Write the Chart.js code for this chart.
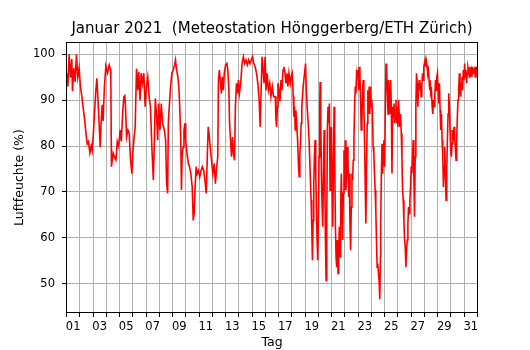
<!DOCTYPE html>
<html>
<head>
<meta charset="utf-8">
<script src="https://cdn.jsdelivr.net/npm/chart.js@4"></script>
<style>
  html, body { margin: 0; padding: 0; background: #fff; }
</style>
</head>
<body>
<canvas id="chartContainer" width="530" height="350"></canvas>
<script>
"use strict";

// 1: data - Zeit in Tagen seit 1. Januar 00:00, Luftfeuchte in %
const zeit = [
  0.00, 0.10, 0.20, 0.30, 0.40, 0.45, 0.55, 0.65, 0.75, 0.85, 0.95,
  1.05, 1.15, 1.25, 1.36, 1.46, 1.56, 1.66, 1.76, 1.86, 1.93,
  2.01, 2.11, 2.21, 2.29, 2.36, 2.46, 2.54, 2.61, 2.69, 2.76, 2.86, 2.97,
  3.09, 3.22, 3.34, 3.39, 3.52, 3.64, 3.73, 3.83, 3.93,
  4.05, 4.13, 4.25, 4.33, 4.40, 4.45, 4.53, 4.63, 4.73, 4.83, 4.93,
  5.00, 5.08, 5.18, 5.28, 5.38, 5.45, 5.55, 5.63, 5.73, 5.83, 5.93,
  6.03, 6.13, 6.23, 6.33, 6.45, 6.55, 6.63, 6.70, 6.80, 6.88, 6.95,
  7.05, 7.15, 7.25, 7.38, 7.48, 7.55, 7.63, 7.68, 7.75, 7.85, 7.95,
  8.05, 8.15, 8.22, 8.30, 8.40, 8.47, 8.54, 8.62, 8.67, 8.72, 8.79, 8.86, 8.94, 8.99,
  9.09, 9.19, 9.28, 9.38, 9.48, 9.56, 9.63, 9.70, 9.78, 9.85, 9.95,
  10.05, 10.15, 10.25, 10.35, 10.44, 10.54, 10.62, 10.69, 10.77, 10.84, 10.94,
  11.04, 11.14, 11.23, 11.33, 11.41, 11.46, 11.53, 11.68, 11.75, 11.83, 11.90,
  12.00, 12.10, 12.17, 12.25, 12.30, 12.37, 12.45, 12.52, 12.60, 12.67, 12.74, 12.82, 12.89, 12.97,
  13.04, 13.14, 13.24, 13.34, 13.44, 13.54, 13.64, 13.74, 13.84, 13.94,
  14.03, 14.13, 14.23, 14.33, 14.43, 14.53, 14.61, 14.68, 14.75, 14.83, 14.90, 14.98,
  15.05, 15.13, 15.23, 15.33, 15.42, 15.52, 15.62, 15.75, 15.80, 15.85, 15.90, 15.95,
  16.03, 16.10, 16.18, 16.25, 16.33, 16.40, 16.48, 16.55, 16.63, 16.70, 16.78, 16.88, 16.95,
  17.03, 17.10, 17.15, 17.20, 17.25, 17.30, 17.35, 17.43, 17.50, 17.55, 17.60, 17.65, 17.70, 17.75, 17.83, 17.90, 17.98,
  18.03, 18.08, 18.15, 18.23, 18.30, 18.38, 18.45, 18.50, 18.55, 18.60, 18.65, 18.70, 18.75, 18.80, 18.85, 18.90, 18.95,
  19.00, 19.05, 19.10, 19.13, 19.18, 19.23, 19.28, 19.33, 19.38, 19.43, 19.48, 19.53, 19.58, 19.63, 19.68, 19.73, 19.78, 19.83, 19.88, 19.93, 19.98,
  20.03, 20.08, 20.13, 20.18, 20.23, 20.28, 20.33, 20.38, 20.43, 20.48, 20.53, 20.58, 20.63, 20.68, 20.73, 20.78, 20.83, 20.88, 20.93, 20.98,
  21.03, 21.08, 21.13, 21.18, 21.23, 21.28, 21.33, 21.38, 21.43, 21.48, 21.53, 21.58, 21.63, 21.68, 21.73, 21.78, 21.83, 21.88, 21.93, 21.98,
  22.03, 22.08, 22.13, 22.18, 22.23, 22.28, 22.33, 22.38, 22.43, 22.48, 22.53, 22.58, 22.63, 22.68, 22.73, 22.78, 22.83, 22.88, 22.93, 22.98,
  23.03, 23.08, 23.13, 23.18, 23.23, 23.28, 23.33, 23.38, 23.43, 23.48, 23.53, 23.58, 23.63, 23.68, 23.70, 23.75, 23.80, 23.85, 23.90, 23.95,
  24.00, 24.05, 24.10, 24.15, 24.20, 24.25, 24.30, 24.35, 24.40, 24.45, 24.50, 24.55, 24.60, 24.65, 24.70, 24.75, 24.80, 24.85, 24.90, 24.95,
  25.00, 25.05, 25.10, 25.15, 25.20, 25.25, 25.30, 25.35, 25.40, 25.45, 25.50, 25.55, 25.60, 25.65, 25.70, 25.75, 25.80, 25.85, 25.90, 25.95,
  26.00, 26.05, 26.10, 26.15, 26.20, 26.25, 26.30, 26.35, 26.40, 26.45, 26.50, 26.55, 26.60, 26.65, 26.70, 26.75, 26.80, 26.85, 26.90, 26.95,
  27.00, 27.05, 27.10, 27.15, 27.20, 27.25, 27.30, 27.35, 27.40, 27.45, 27.48, 27.53, 27.58, 27.63, 27.68, 27.73, 27.78, 27.83, 27.88, 27.93, 27.98,
  28.03, 28.08, 28.13, 28.18, 28.23, 28.28, 28.33, 28.38, 28.43, 28.48, 28.53, 28.58, 28.63, 28.68, 28.73, 28.78, 28.83, 28.88, 28.93, 28.98,
  29.03, 29.08, 29.13, 29.18, 29.23, 29.28, 29.33, 29.38, 29.43, 29.48, 29.53, 29.58, 29.63, 29.68, 29.73, 29.78, 29.83, 29.88, 29.93, 29.98,
  30.03, 30.08, 30.13, 30.18, 30.23, 30.28, 30.33, 30.38, 30.43, 30.48, 30.53, 30.58, 30.63, 30.68, 30.73, 30.78, 30.83, 30.88, 30.93, 30.98
];

const feuchte = [
  96, 93, 100, 95, 99, 92, 97, 94, 100, 95, 97,
  93, 91, 88.5, 86, 83, 80.5, 81, 78.5, 80, 79,
  82, 87, 92, 94.8, 91, 85, 79.8, 85, 89, 85.5, 93, 97.5,
  96, 97.7, 96.5, 75.5, 78.5, 77.5, 77, 81, 80,
  83.5, 81, 87.8, 90.8, 91, 88.5, 82, 83.5, 82.8, 77, 74,
  78.4, 81.3, 84.2, 96.9, 92.2, 96.2, 90, 95.9, 93.7, 95.9, 88.6,
  92.9, 95, 90.8, 88.6, 79, 72.6, 81.3, 90.4, 86.4, 81.3, 89.3,
  83.5, 89.3, 85, 83.5, 81.3, 71.8, 69.7, 85, 88.6, 93, 95.9,
  96.6, 97.7, 98.8, 96.6, 95.1, 93, 88.6, 81.3, 70.4, 77.7, 79.8, 83.5, 85, 81.3,
  78.4, 76.2, 75.5, 74, 71.1, 63.8, 65.3, 71.1, 75.5, 74, 74.7,
  73.3, 74.7, 75.5, 74.7, 72.6, 69.7, 77.7, 84.2, 82, 79.8, 76.9,
  74, 76.2, 71.8, 75.5, 77.7, 94.4, 96.6, 91.5, 95.1, 92.2, 95.9,
  97.7, 98, 96.6, 92.2, 85, 81.3, 77.7, 82, 78.4, 76.9, 88.6, 93.7, 91.5, 94.4,
  91.5, 93.7, 98, 99.5, 98, 98.8, 97.7, 98.8, 98, 98.8,
  99.5, 98, 97.3, 95.9, 93.7, 90.1, 84.2, 92.2, 99.5, 96.6, 93.7, 99.5,
  92.2, 95.9, 92.2, 93.7, 90.8, 93, 90.8, 90.8, 85.7, 84.2, 88.6, 93.7,
  92.2, 89.8, 94.4, 92.2, 96.6, 97.3, 95.9, 93.7, 95.9, 93, 95.9, 93.7, 95.1,
  95.9, 90.8, 86.4, 88.6, 83.5, 87.8, 85.7, 81.3, 75.5, 73.3, 78.4, 80.5, 85, 88.6, 92.2, 94.4, 96.6,
  98, 93, 88.6, 85, 81.3, 74, 68.2, 62.4, 55.1, 63.8, 71.8, 77.7, 81.3, 74, 66.7, 59.5, 55.1,
  64.6, 77.7, 88.6, 94, 85, 74, 66.7, 62.4, 74, 83.5, 74, 59.5, 50.7, 63.1, 84.2, 88.6, 85, 89.3, 70.4, 81.3, 84.2,
  74, 62.4, 74, 88.6, 77.7, 63.1, 55.8, 53.6, 59.5, 52.2, 56.6, 62.4, 55.8, 66.7, 74, 66.7, 59.5, 69.7, 79.1, 70.4,
  81.3, 70.4, 74, 79.8, 77.7, 68.9, 74, 63.1, 57.3, 66.7, 74, 72.6, 76.9, 81.3, 88.6, 93, 91.5, 95.9, 95.1, 96.6,
  92.2, 97.3, 95.9, 90.1, 83.5, 85, 92.2, 94.4, 88.6, 81.3, 71.8, 63.1, 75.5, 85, 92.2, 87, 93, 87, 93, 88.6,
  90.1, 87, 79.8, 78.4, 74, 70.4, 66, 59.5, 53.6, 54.3, 52.2, 50.7, 46.6, 55.8, 63.1, 74, 80.5, 74, 79.1, 81.3,
  75.5, 88.6, 98, 96.6, 91.5, 87, 94.4, 90.1, 87, 94.4, 88.6, 74, 88.6, 86.4, 89.3, 85, 87, 90.1, 85, 88.6,
  84.2, 90.1, 86.4, 84.2, 87, 82.8, 77.7, 70.4, 68.2, 63.8, 59.5, 58, 53.6, 57.3, 59.5, 63.1, 66.7, 65.3, 68.2, 71.1,
  75.5, 74, 77.7, 81.3, 74, 64.6, 77.7, 88.6, 95.9, 93.7, 88.6, 92.2, 94.4, 92.2, 93.7, 90.8, 93, 95.9, 94.4, 97.3,
  98, 98.8, 97.3, 98.4, 97.3, 95.9, 96.6, 94.4, 92.2, 93, 91.5, 92, 88.6, 87, 90.1, 88.6, 90.8, 94.4, 92.2, 95.1, 95.9,
  92.2, 89.3, 93.7, 87.8, 83.5, 87, 81.3, 77.7, 71.1, 75.5, 79.8, 74, 68.2, 74.7, 81.3, 87, 91.5, 88.6, 83.5, 79.1,
  77.7, 80.5, 83.5, 81.3, 84.2, 81.3, 79.8, 76.9, 81.3, 86.4, 90.1, 92.2, 95.9, 92.2, 90.8, 93.7, 95.1, 92.2, 96.6, 94.4,
  98, 95.1, 96.6, 93.7, 95.9, 97.3, 96.6, 95.1, 97.3, 95.9, 96.6, 95.1, 97.3, 95.9, 96.6, 96.9, 95.1, 97.3, 96.2, 97.3
];

const tagLabels = ['01', '03', '05', '07', '09', '11', '13', '15',
                   '17', '19', '21', '23', '25', '27', '29', '31'];
const yTicks = [50, 60, 70, 80, 90, 100];

// 2: frame round the plot area (like matplotlib spines)
const frame = {
  id: 'frame',
  afterDatasetsDraw(chart) {
    const {ctx, chartArea: a} = chart;
    ctx.save();
    ctx.strokeStyle = '#000';
    ctx.lineWidth = 1;
    ctx.strokeRect(a.left, a.top, a.right - a.left, a.bottom - a.top);
    ctx.restore();
  }
};

// 3: create the chart
function appendChart() {
  Chart.defaults.font.family = "'DejaVu Sans', sans-serif";
  Chart.defaults.color = '#000';

  const points = zeit.map((t, i) => ({x: t, y: feuchte[i]}));
  const gridStyle = {color: '#b0b0b0', lineWidth: 1, tickColor: '#000', tickLength: 4.5};

  new Chart(document.getElementById('chartContainer'), {
    type: 'line',
    data: {
      datasets: [{
        data: points,
        xAxisID: 'x',
        yAxisID: 'y',
        borderColor: '#ff0000',
        borderWidth: 1.6,
        pointRadius: 0,
        tension: 0,
        fill: false
      }]
    },
    options: {
      responsive: false,
      animation: false,
      layout: {padding: {left: 14, right: 0, top: 0, bottom: 0}},
      plugins: {
        legend: {display: false},
        tooltip: {enabled: false},
        title: {
          display: true,
          text: 'Januar 2021  (Meteostation Hönggerberg/ETH Zürich)',
          font: {size: 15, weight: 'normal'},
          padding: {top: 19.7, bottom: 4.8}
        }
      },
      scales: {
        x: {
          type: 'linear',
          min: 0,
          max: 31,
          ticks: {
            stepSize: 1,
            autoSkip: false,
            maxRotation: 0,
            labelOffset: 6.63,
            padding: 3,
            font: {size: 11.5},
            callback: (v) => (v % 2 === 0 && v < 31) ? tagLabels[v / 2] : ''
          },
          grid: gridStyle,
          border: {display: false},
          title: {display: true, text: 'Tag', font: {size: 12.5}, padding: {top: 0, bottom: 0}},
          afterFit(scale) { scale.height = 37.5; }
        },
        y: {
          position: 'left',
          min: 43.7,
          max: 102.6,
          afterBuildTicks(scale) { scale.ticks = yTicks.map(v => ({value: v})); },
          ticks: {padding: 7, font: {size: 11.5}},
          grid: gridStyle,
          border: {display: false},
          title: {
            display: true,
            text: 'Luftfeuchte (%)',
            font: {size: 12.5, lineHeight: 1},
            padding: {top: -1, bottom: 0}
          },
          afterFit(scale) { scale.width = 52.5; }
        },
        yr: {
          position: 'right',
          grid: {display: false},
          ticks: {display: false},
          border: {display: false},
          afterFit(scale) { scale.width = 52.5; }
        }
      }
    },
    plugins: [frame]
  });
}

appendChart();
</script>
</body>
</html>
